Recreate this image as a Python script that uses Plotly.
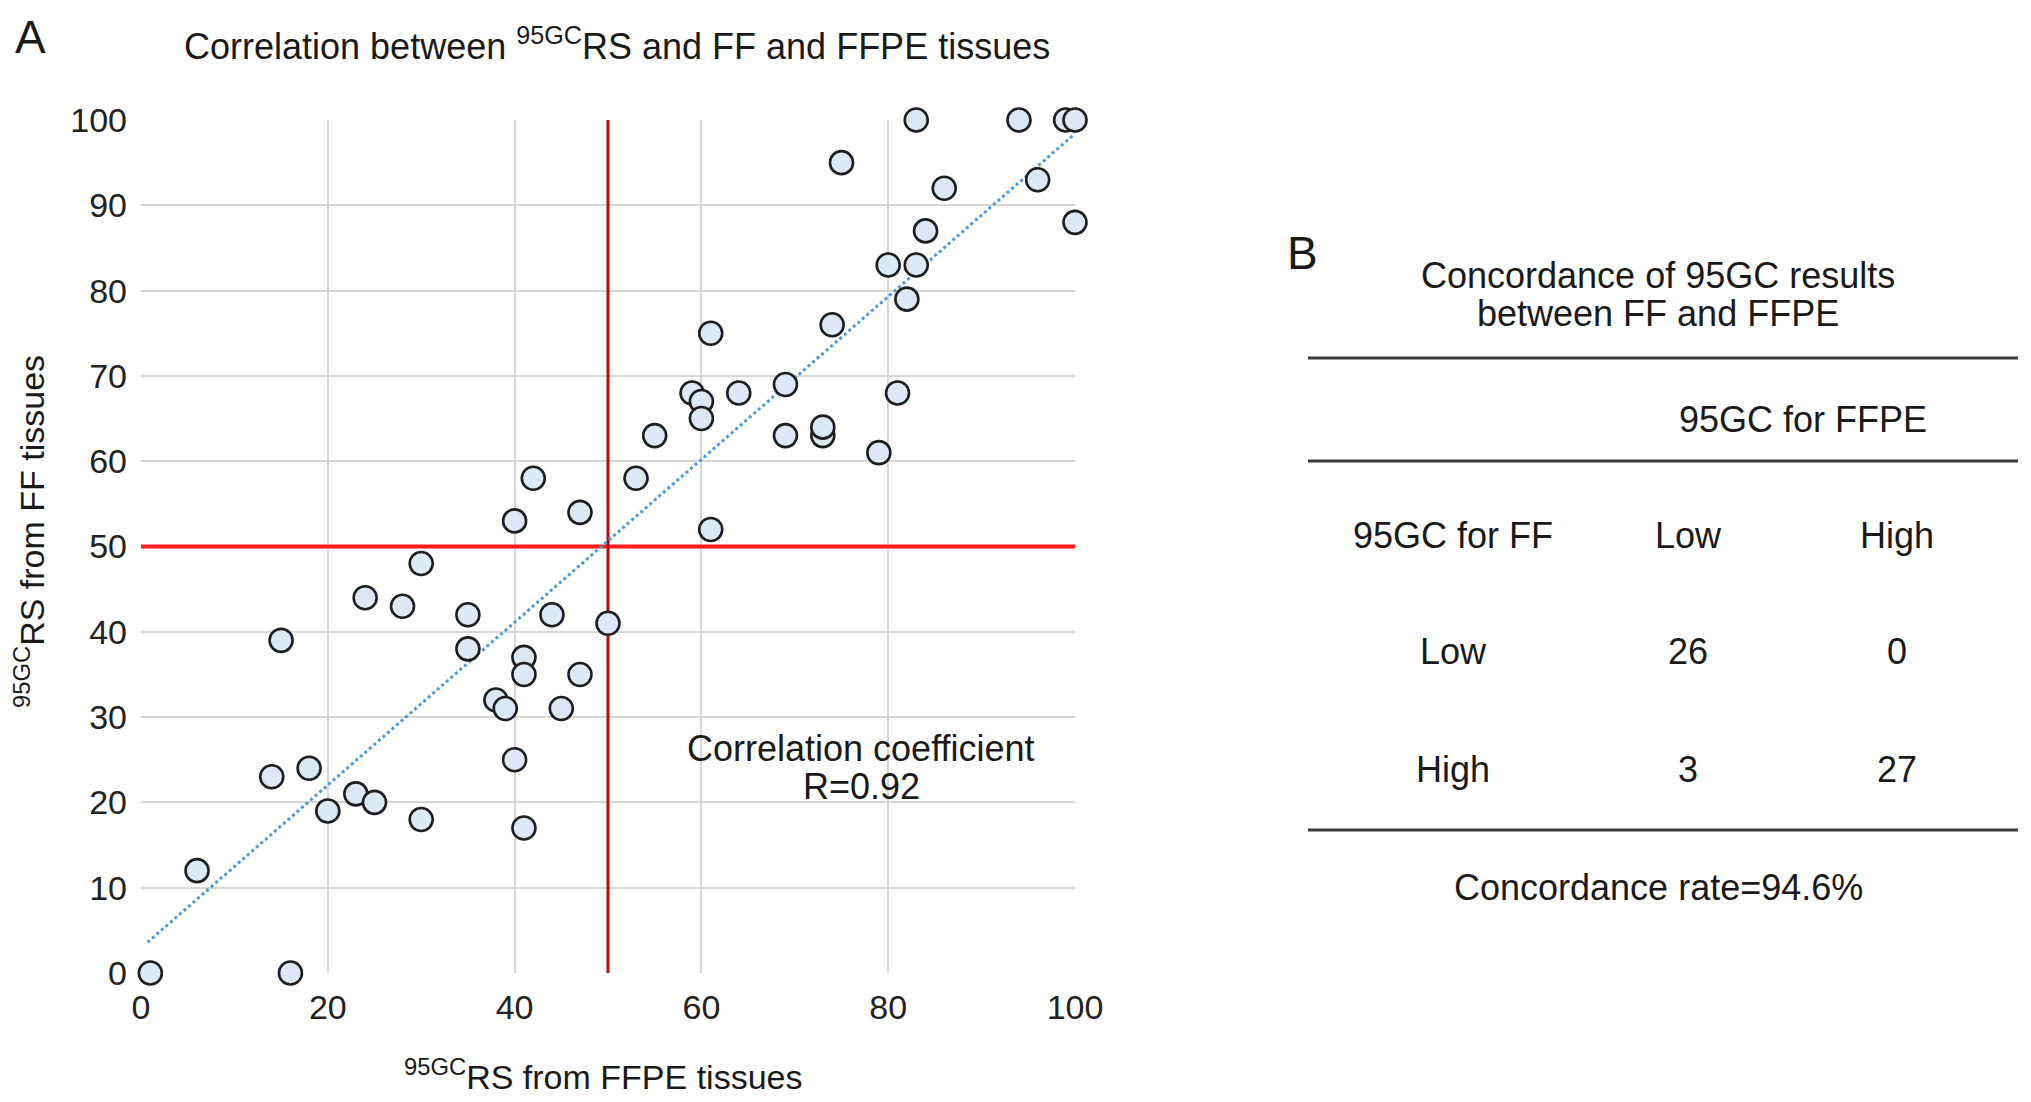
import plotly.graph_objects as go

# panel A data: 95GC recurrence score, FFPE (x) vs FF (y)
ffpe_rs = [83, 94, 99, 100, 75, 96, 86, 100, 84, 80, 83, 82, 74, 61, 69, 59, 60, 64, 81, 60,
           55, 69, 73, 73, 79, 42, 53, 47, 40, 61,
           30, 24, 28, 35, 44, 50, 15, 35, 41, 41, 47, 38, 39, 45, 40, 18, 14, 23, 25, 20,
           30, 41, 6, 1, 16]
ff_rs = [100, 100, 100, 100, 95, 93, 92, 88, 87, 83, 83, 79, 76, 75, 69, 68, 67, 68, 68, 65,
         63, 63, 63, 64, 61, 58, 58, 54, 53, 52,
         48, 44, 43, 42, 42, 41, 39, 38, 37, 35, 35, 32, 31, 31, 25, 24, 23, 21, 20, 19,
         18, 17, 12, 0, 0]

trend_x = [0.7, 100]
trend_y = [3.6, 98.4]
cutoff = 50
r_value = 0.92

# panel B data: concordance table
levels = ["Low", "High"]
counts = [[26, 0], [3, 27]]  # rows: FF, cols: FFPE
concordance_rate = 94.6

W, H = 2031, 1102
OFF = 8  # page body margin
FONT = "Liberation Sans, Arial, sans-serif"


def px(x, y):
    """Page pixel position -> paper coords."""
    return (x - OFF) / W, 1 - (y - OFF) / H


fig = go.Figure()

# cut-off lines
fig.add_trace(go.Scatter(x=[0, 100.4], y=[cutoff, cutoff], mode="lines",
                         line=dict(color="#ff1c1c", width=4), hoverinfo="skip"))
fig.add_trace(go.Scatter(x=[cutoff, cutoff], y=[0, 100], mode="lines",
                         line=dict(color="#b00d0d", width=3), hoverinfo="skip"))

# trend line
fig.add_trace(go.Scatter(x=trend_x, y=trend_y, mode="lines",
                         line=dict(color="#4d9ad6", width=3, dash="dot"), hoverinfo="skip"))

# points
fig.add_trace(go.Scatter(
    x=ffpe_rs, y=ff_rs, mode="markers", cliponaxis=False,
    marker=dict(size=23, color="#dce8f5", line=dict(color="#1e1e1e", width=2.6)),
))

x0, y0 = px(141, 973)
x1, y1 = px(1075, 120)

axis_font = dict(family=FONT, size=34, color="#222")
fig.update_xaxes(domain=[x0, x1], range=[0, 100], dtick=20, showgrid=True,
                 gridcolor="#d6d6d6", gridwidth=2, zeroline=False, showline=False,
                 tickfont=axis_font, ticks="", ticklabelstandoff=11, automargin=False)
fig.update_yaxes(domain=[y0, y1], range=[0, 100], dtick=10, showgrid=True,
                 gridcolor="#d6d6d6", gridwidth=2, zeroline=False, showline=False,
                 tickfont=axis_font, ticks="", ticklabelstandoff=13, automargin=False)

ann = []


def text(s, x, y, size=34, **kw):
    xp, yp = px(x, y)
    ann.append(dict(text=s, x=xp, y=yp, xref="paper", yref="paper", showarrow=False,
                    xanchor="center", yanchor="middle",
                    font=dict(family=FONT, size=size, color="#1a1a1a"), **kw))


# panel A texts
text("A", 30, 37, size=46)
text("Correlation between <sup>95GC</sup>RS and FF and FFPE tissues", 617, 44, size=36)
text("<sup>95GC</sup>RS from FFPE tissues", 603, 1074, size=34)
text("<sup>95GC</sup>RS from FF tissues", 29, 532, size=34, textangle=-90)
text("Correlation coefficient", 861, 748, size=36)
text(f"R={r_value}", 861, 786, size=36)

# panel B
text("B", 1302, 253, size=46)
text("Concordance of 95GC results", 1658, 275, size=36)
text("between FF and FFPE", 1658, 313, size=36)
text("95GC for FFPE", 1803, 419, size=36)
text("95GC for FF", 1453, 535, size=36)
col_x = [1688, 1897]
row_y = [651, 769]
for j, lv in enumerate(levels):
    text(lv, col_x[j], 535, size=36)
for i, lv in enumerate(levels):
    text(lv, 1453, row_y[i], size=36)
    for j in range(len(levels)):
        text(str(counts[i][j]), col_x[j], row_y[i], size=36)
text(f"Concordance rate={concordance_rate}%", 1658, 888, size=36)

shapes = []
for ly in [358, 461, 830]:
    xa, ya = px(1308, ly)
    xb, _ = px(2018, ly)
    shapes.append(dict(type="line", xref="paper", yref="paper", x0=xa, x1=xb, y0=ya, y1=ya,
                       line=dict(color="#3a3a3a", width=3)))

fig.update_layout(
    width=W, height=H,
    margin=dict(l=0, r=0, t=0, b=0, autoexpand=False),
    paper_bgcolor="white", plot_bgcolor="white",
    showlegend=False,
    annotations=ann,
    shapes=shapes,
)

fig.write_html("out.html")
